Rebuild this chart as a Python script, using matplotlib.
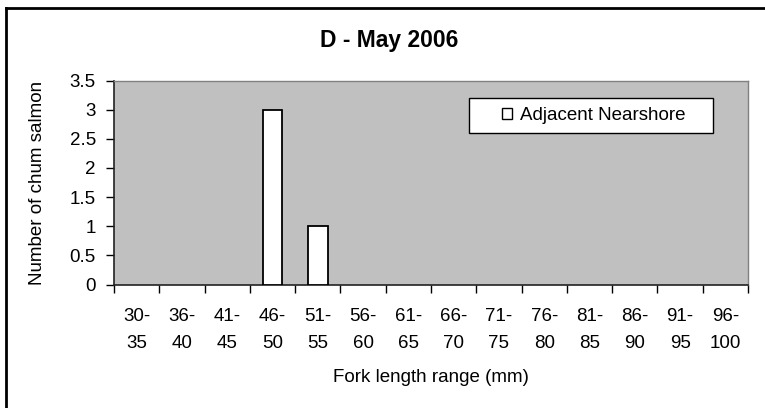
import numpy as np
import matplotlib
matplotlib.use("Agg")
import matplotlib.pyplot as plt
from matplotlib.patches import Rectangle
from matplotlib.lines import Line2D

plt.rcParams['font.family'] = ['Liberation Sans', 'DejaVu Sans']

# data
categories = ["30-\n35", "36-\n40", "41-\n45", "46-\n50", "51-\n55", "56-\n60", "61-\n65",
              "66-\n70", "71-\n75", "76-\n80", "81-\n85", "86-\n90", "91-\n95", "96-\n100"]
adjacent_nearshore = [0, 0, 0, 3, 1, 0, 0, 0, 0, 0, 0, 0, 0, 0]
y_ticks = [0, 0.5, 1, 1.5, 2, 2.5, 3, 3.5]
y_tick_labels = ["0", "0.5", "1", "1.5", "2", "2.5", "3", "3.5"]

W, H = 765, 408
fig = plt.figure(figsize=(W / 100, H / 100), dpi=100)

# plot area in pixels
left, right, top, bottom = 114, 748, 80.5, 284.5
ax = fig.add_axes([left / W, 1 - bottom / H, (right - left) / W, (bottom - top) / H])
ax.set_facecolor('#C0C0C0')

x = np.arange(len(categories))
# empty classes draw nothing (no edge line on the axis)
edge_w = [1.3 if v > 0 else 0 for v in adjacent_nearshore]
bars = ax.bar(x, adjacent_nearshore, width=0.43, color='white', edgecolor='black',
              linewidth=edge_w, zorder=3, label='Adjacent Nearshore')

ax.set_xlim(-0.5, len(categories) - 0.5)
ax.set_ylim(0, 3.5)

# category boundaries get tick marks, labels sit between them
ax.set_xticks(np.arange(len(categories) + 1) - 0.5)
ax.set_xticklabels([])
ax.set_xticks(x, minor=True)
ax.set_xticklabels(categories, minor=True, fontsize=13.5, linespacing=1.75)
ax.tick_params(axis='x', which='major', direction='out', length=6, width=1, color='black')
ax.tick_params(axis='x', which='minor', length=0, pad=17)

ax.set_yticks(y_ticks)
ax.set_yticklabels(y_tick_labels, fontsize=13.5)
ax.tick_params(axis='y', direction='out', length=6, width=1, color='black', pad=7)

for s in ['left', 'bottom']:
    ax.spines[s].set_color('#222222')
    ax.spines[s].set_linewidth(1.2)
for s in ['top', 'right']:
    ax.spines[s].set_color('#808080')
    ax.spines[s].set_linewidth(1.0)

ax.set_xlabel('Fork length range (mm)', fontsize=13.5, labelpad=12)
ax.set_ylabel('Number of chum salmon', fontsize=13.5, labelpad=17)

fig.text(389 / W, 1 - 40 / H, 'D - May 2006', fontsize=16.5, fontweight='bold',
         ha='center', va='center')

# legend box
bx0, bx1, by0, by1 = 469, 713, 98, 133.3
ax.add_patch(Rectangle(((bx0 - left) / (right - left), (bottom - by1) / (bottom - top)),
                       (bx1 - bx0) / (right - left), (by1 - by0) / (bottom - top),
                       transform=ax.transAxes, facecolor='white', edgecolor='black',
                       linewidth=1.0, zorder=4))
leg = ax.legend(loc='center', bbox_to_anchor=((593.5 - left) / (right - left),
                                              (bottom - 115.6) / (bottom - top)),
                frameon=False, fontsize=13.5, handlelength=0.55, handleheight=0.55,
                handletextpad=0.43, borderpad=0, borderaxespad=0)
leg.set_zorder(5)
leg.legend_handles[0].set_linewidth(1.0)

# chart border (only left and top fall inside the picture)
fig.add_artist(Line2D([6 / W, 6 / W], [0, 1 - 8 / H], color='black', linewidth=2))
fig.add_artist(Line2D([6 / W, 1], [1 - 8 / H, 1 - 8 / H], color='black', linewidth=2))

fig.savefig('out.png', dpi=100)
